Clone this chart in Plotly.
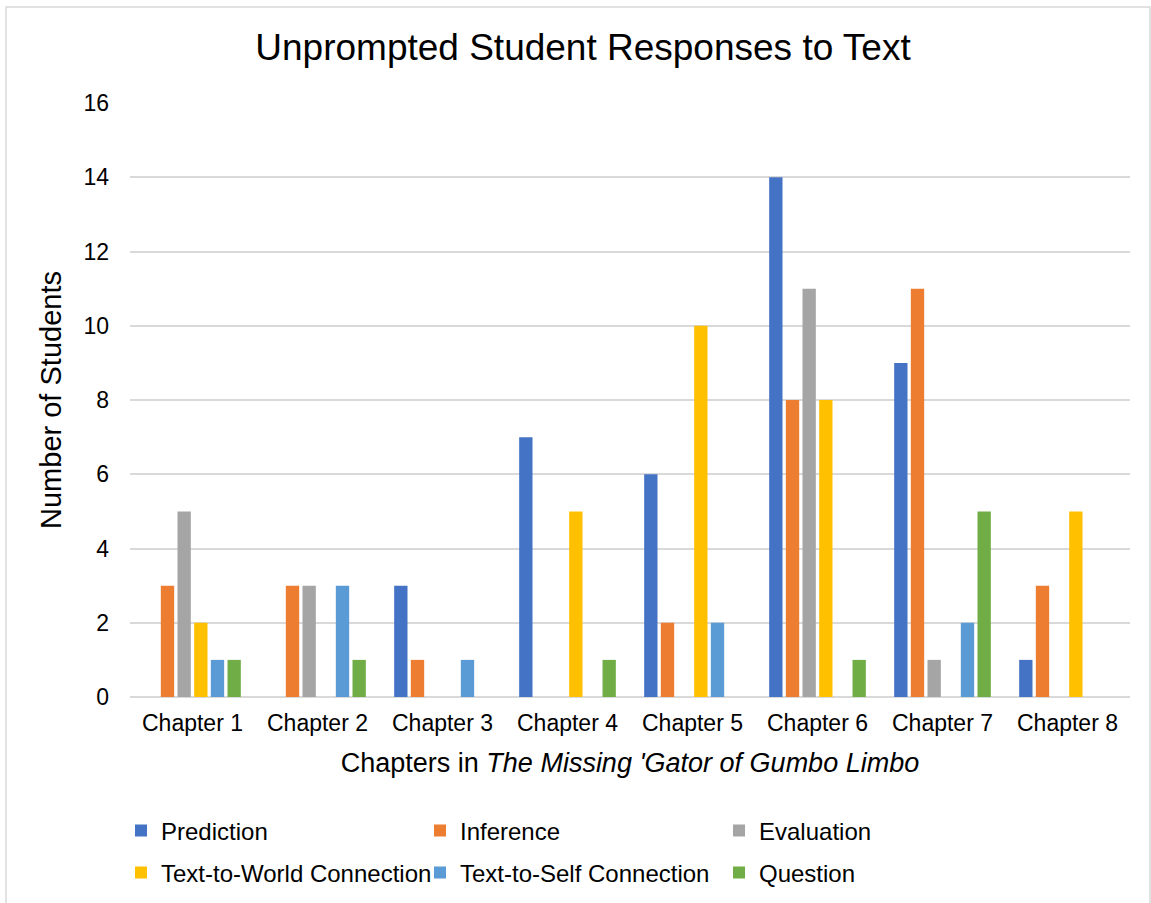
import plotly.graph_objects as go

chapters = ["Chapter 1", "Chapter 2", "Chapter 3", "Chapter 4",
            "Chapter 5", "Chapter 6", "Chapter 7", "Chapter 8"]

prediction = [0, 0, 3, 7, 6, 14, 9, 1]
inference = [3, 3, 1, 0, 2, 8, 11, 3]
evaluation = [5, 3, 0, 0, 0, 11, 1, 0]
text_to_world = [2, 0, 0, 5, 10, 8, 0, 5]
text_to_self = [1, 3, 1, 0, 2, 0, 2, 0]
question = [1, 1, 0, 1, 0, 1, 5, 0]

y_ticks = [0, 2, 4, 6, 8, 10, 12, 14, 16]

series = [
    ("Prediction", prediction, "#4472C4", "legend"),
    ("Inference", inference, "#ED7D31", "legend"),
    ("Evaluation", evaluation, "#A5A5A5", "legend"),
    ("Text-to-World Connection", text_to_world, "#FFC000", "legend2"),
    ("Text-to-Self Connection", text_to_self, "#5B9BD5", "legend2"),
    ("Question", question, "#70AD47", "legend2"),
]

FONT = "Liberation Sans, Arial, sans-serif"
GRID = "#d9d9d9"

fig = go.Figure()
for name, vals, color, leg in series:
    fig.add_trace(go.Bar(
        name=name, x=chapters, y=vals,
        marker=dict(color=color, line=dict(width=0)),
        legend=leg,
    ))

legend_common = dict(
    orientation="h",
    xanchor="left", yanchor="middle",
    x=-0.009,
    entrywidth=254, entrywidthmode="pixels",
    font=dict(family=FONT, size=24, color="#000000"),
    bgcolor="rgba(0,0,0,0)",
    itemclick=False, itemdoubleclick=False,
)

fig.update_layout(
    width=1151, height=903,
    margin=dict(l=130, r=21, t=103, b=206, autoexpand=False),
    paper_bgcolor="white", plot_bgcolor="white",
    font=dict(family=FONT, color="#000000"),
    barmode="group", bargap=0.2, bargroupgap=0.2,
    title=dict(
        text="Unprompted Student Responses to Text",
        x=583 / 1151, xref="container", xanchor="center",
        y=1 - 47 / 903, yref="container", yanchor="middle",
        font=dict(family=FONT, size=37, color="#000000"),
    ),
    legend=dict(legend_common, y=(697 - 831) / 594),
    legend2=dict(legend_common, y=(697 - 873) / 594),
    xaxis=dict(
        showgrid=False, ticks="", showline=False, automargin=False,
        tickfont=dict(family=FONT, size=23, color="#000000"),
        ticklabelstandoff=10,
        title=dict(
            text="Chapters in <i>The Missing 'Gator of Gumbo Limbo</i>",
            font=dict(family=FONT, size=27, color="#000000"),
            standoff=18,
        ),
    ),
    yaxis=dict(
        range=[0, 16], tickvals=y_ticks, automargin=False,
        showgrid=True, gridcolor=GRID, gridwidth=1.5,
        zeroline=True, zerolinecolor=GRID, zerolinewidth=1.5,
        ticks="", showline=False,
        tickfont=dict(family=FONT, size=23, color="#000000"),
        ticklabelstandoff=20,
        title=dict(
            text="Number of Students",
            font=dict(family=FONT, size=29, color="#000000"),
            standoff=13,
        ),
    ),
)

# light frame around the whole chart
fig.add_shape(
    type="rect", xref="paper", yref="paper",
    x0=(6 - 130) / 1000, x1=(1150 - 130) / 1000,
    y0=-0.5, y1=(697 - 7) / 594,
    line=dict(color=GRID, width=1.5), fillcolor="rgba(0,0,0,0)",
    layer="below",
)

fig.write_html("out.html")
